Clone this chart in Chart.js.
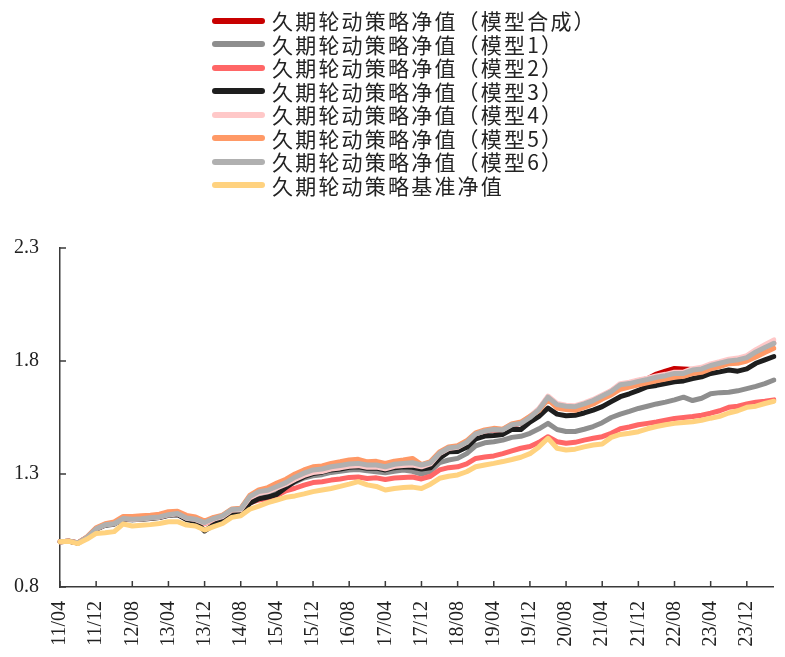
<!DOCTYPE html>
<html>
<head>
<meta charset="utf-8">
<script src="https://cdn.jsdelivr.net/npm/chart.js@4/dist/chart.umd.min.js"></script>
<style>
  body { margin: 0; background: #fff; }
  #wrap { position: relative; width: 785px; height: 657px; }
  #legend { position: absolute; left: 212px; top: 9px; margin: 0; padding: 0; list-style: none;
            font-family: "Noto Sans CJK SC", sans-serif; font-size: 21px; color: #222; }
  #legend li { height: 23.5px; line-height: 23.5px; white-space: nowrap; display: flex; align-items: center; }
  #legend .sw { display: inline-block; width: 53px; height: 6px; border-radius: 3px; margin-right: 7px; }
  #legend .tx { letter-spacing: 2.2px; }
</style>
</head>
<body>
<div id="wrap">
  <canvas id="chart" width="785" height="657"></canvas>
  <ul id="legend"></ul>
</div>
<script>
// 月份（双月）
const months = [
  '11/04','11/06','11/08','11/10','11/12',
  '12/02','12/04','12/06','12/08','12/10','12/12',
  '13/02','13/04','13/06','13/08','13/10','13/12',
  '14/02','14/04','14/06','14/08','14/10','14/12',
  '15/02','15/04','15/06','15/08','15/10','15/12',
  '16/02','16/04','16/06','16/08','16/10','16/12',
  '17/02','17/04','17/06','17/08','17/10','17/12',
  '18/02','18/04','18/06','18/08','18/10','18/12',
  '19/02','19/04','19/06','19/08','19/10','19/12',
  '20/02','20/04','20/06','20/08','20/10','20/12',
  '21/02','21/04','21/06','21/08','21/10','21/12',
  '22/02','22/04','22/06','22/08','22/10','22/12',
  '23/02','23/04','23/06','23/08','23/10','23/12',
  '24/02','24/04','24/06'
];

// x 轴显示的刻度
const tickLabels = ['11/04','11/12','12/08','13/04','13/12','14/08','15/04','15/12','16/08','17/04',
  '17/12','18/08','19/04','19/12','20/08','21/04','21/12','22/08','23/04','23/12'];

const yTicks = [0.8, 1.3, 1.8, 2.3];

const seriesNames = [
  '久期轮动策略净值（模型合成）',
  '久期轮动策略净值（模型1）',
  '久期轮动策略净值（模型2）',
  '久期轮动策略净值（模型3）',
  '久期轮动策略净值（模型4）',
  '久期轮动策略净值（模型5）',
  '久期轮动策略净值（模型6）',
  '久期轮动策略基准净值'
];

const seriesColors = ['#C80000', '#8E8E8E', '#FF6666', '#1E1E1E', '#FFC8C8', '#FF9966', '#B0B0B0', '#FFD27F'];

const navSynth = [1.000,1.003,0.995,1.020,1.058,1.076,1.081,1.104,1.101,1.103,1.107,1.111,1.121,1.126,1.106,1.100,1.086,1.103,1.115,1.142,
  1.145,1.198,1.220,1.226,1.243,1.260,1.284,1.302,1.316,1.320,1.330,1.336,1.342,1.345,1.338,1.338,1.330,1.341,1.345,1.348,
  1.338,1.349,1.391,1.414,1.419,1.440,1.477,1.489,1.496,1.494,1.517,1.524,1.552,1.586,1.641,1.608,1.601,1.598,1.610,1.626,
  1.646,1.667,1.696,1.702,1.713,1.722,1.742,1.755,1.767,1.765,1.762,1.766,1.781,1.791,1.801,1.806,1.816,1.841,1.862,1.880];

const navModel1 = [1.000,1.003,0.995,1.020,1.058,1.075,1.080,1.102,1.099,1.101,1.105,1.109,1.118,1.123,1.103,1.098,1.083,1.100,1.112,1.140,
  1.140,1.185,1.205,1.212,1.225,1.244,1.264,1.282,1.292,1.297,1.307,1.312,1.318,1.320,1.314,1.310,1.305,1.312,1.318,1.312,
  1.300,1.312,1.350,1.362,1.369,1.390,1.425,1.438,1.443,1.450,1.462,1.467,1.480,1.500,1.524,1.497,1.488,1.488,1.498,1.510,
  1.527,1.550,1.565,1.577,1.590,1.600,1.610,1.618,1.628,1.640,1.625,1.635,1.655,1.660,1.662,1.668,1.678,1.688,1.700,1.716];

const navModel2 = [1.000,1.003,0.995,1.020,1.058,1.076,1.082,1.106,1.104,1.106,1.110,1.114,1.124,1.128,1.108,1.100,1.080,1.098,1.108,1.132,
  1.130,1.172,1.185,1.192,1.205,1.226,1.237,1.251,1.262,1.266,1.273,1.278,1.285,1.287,1.280,1.283,1.276,1.282,1.285,1.287,
  1.278,1.290,1.318,1.328,1.332,1.345,1.369,1.375,1.380,1.390,1.402,1.414,1.422,1.440,1.465,1.443,1.436,1.440,1.450,1.458,
  1.465,1.480,1.500,1.508,1.518,1.524,1.530,1.538,1.546,1.550,1.554,1.560,1.569,1.580,1.595,1.600,1.610,1.618,1.622,1.628];

const navModel3 = [1.000,1.002,0.994,1.018,1.056,1.073,1.078,1.100,1.097,1.100,1.103,1.107,1.117,1.120,1.098,1.090,1.048,1.075,1.098,1.128,
  1.124,1.170,1.190,1.198,1.210,1.240,1.268,1.288,1.302,1.308,1.318,1.322,1.330,1.332,1.325,1.326,1.318,1.328,1.332,1.330,
  1.322,1.328,1.370,1.398,1.400,1.418,1.455,1.468,1.470,1.475,1.498,1.497,1.530,1.555,1.592,1.565,1.558,1.560,1.570,1.583,
  1.598,1.620,1.642,1.655,1.670,1.686,1.692,1.700,1.708,1.712,1.722,1.730,1.745,1.752,1.760,1.755,1.765,1.790,1.805,1.820];

const navModel4 = [1.000,1.003,0.995,1.020,1.058,1.075,1.080,1.102,1.099,1.101,1.105,1.109,1.119,1.124,1.104,1.098,1.082,1.100,1.112,1.140,
  1.142,1.195,1.215,1.222,1.238,1.255,1.276,1.294,1.306,1.311,1.322,1.327,1.334,1.337,1.330,1.331,1.323,1.334,1.338,1.340,
  1.332,1.345,1.390,1.413,1.418,1.440,1.478,1.490,1.498,1.497,1.520,1.527,1.555,1.590,1.645,1.612,1.604,1.602,1.615,1.630,
  1.650,1.670,1.700,1.706,1.716,1.724,1.734,1.741,1.750,1.751,1.766,1.772,1.787,1.797,1.808,1.813,1.824,1.850,1.872,1.893];

const navModel5 = [1.000,1.003,0.995,1.022,1.062,1.080,1.088,1.112,1.112,1.115,1.118,1.122,1.133,1.135,1.117,1.110,1.092,1.108,1.118,1.145,
  1.148,1.205,1.230,1.240,1.260,1.277,1.300,1.318,1.332,1.336,1.347,1.354,1.362,1.365,1.354,1.356,1.347,1.357,1.362,1.369,
  1.342,1.355,1.398,1.420,1.425,1.447,1.482,1.495,1.502,1.498,1.522,1.530,1.555,1.580,1.630,1.592,1.585,1.582,1.595,1.610,
  1.632,1.650,1.675,1.685,1.695,1.703,1.712,1.720,1.728,1.732,1.745,1.750,1.765,1.775,1.788,1.790,1.800,1.818,1.838,1.856];

const navModel6 = [1.000,1.003,0.995,1.020,1.058,1.075,1.080,1.103,1.100,1.102,1.106,1.110,1.120,1.125,1.105,1.100,1.085,1.103,1.115,1.143,
  1.145,1.200,1.222,1.228,1.245,1.262,1.286,1.304,1.318,1.322,1.332,1.338,1.344,1.347,1.340,1.340,1.332,1.343,1.347,1.350,
  1.340,1.350,1.392,1.415,1.420,1.440,1.478,1.490,1.497,1.495,1.518,1.524,1.550,1.585,1.640,1.607,1.600,1.598,1.610,1.625,
  1.645,1.665,1.695,1.700,1.710,1.718,1.728,1.735,1.745,1.745,1.760,1.765,1.780,1.790,1.800,1.805,1.815,1.840,1.860,1.878];

const navBench = [1.000,1.002,0.992,1.012,1.037,1.040,1.045,1.079,1.070,1.073,1.076,1.081,1.089,1.089,1.074,1.070,1.052,1.067,1.081,1.108,
  1.115,1.144,1.158,1.173,1.185,1.197,1.203,1.212,1.222,1.229,1.236,1.245,1.255,1.266,1.252,1.245,1.229,1.236,1.240,1.242,
  1.236,1.255,1.281,1.290,1.296,1.310,1.332,1.340,1.347,1.355,1.364,1.374,1.390,1.420,1.458,1.414,1.406,1.410,1.420,1.428,
  1.433,1.462,1.475,1.480,1.487,1.500,1.510,1.518,1.524,1.528,1.531,1.538,1.547,1.555,1.570,1.580,1.595,1.600,1.612,1.622];

const seriesData = [navSynth, navModel1, navModel2, navModel3, navModel4, navModel5, navModel6, navBench];

// 图例
const legendEl = document.getElementById('legend');
seriesNames.forEach(function (name, i) {
  const li = document.createElement('li');
  li.innerHTML = '<span class="sw" style="background:' + seriesColors[i] + '"></span><span class="tx">' + name + '</span>';
  legendEl.appendChild(li);
});

const axisColor = '#3a3a3a';

// 向内的刻度线
const innerTicks = {
  id: 'innerTicks',
  afterDraw(chart) {
    const ctx = chart.ctx;
    const xs = chart.scales.x;
    const ys = chart.scales.y;
    ctx.save();
    ctx.strokeStyle = axisColor;
    ctx.lineWidth = 1.5;
    ctx.beginPath();
    months.forEach(function (m, i) {
      if (tickLabels.includes(m)) {
        const x = xs.getPixelForValue(i);
        ctx.moveTo(x, ys.bottom);
        ctx.lineTo(x, ys.bottom - 6);
      }
    });
    yTicks.forEach(function (v) {
      const y = ys.getPixelForValue(v);
      ctx.moveTo(xs.left, y);
      ctx.lineTo(xs.left + 6, y);
    });
    ctx.stroke();
    ctx.restore();
  }
};

const datasets = seriesNames.map(function (name, i) {
  return {
    label: name,
    data: seriesData[i],
    borderColor: seriesColors[i],
    backgroundColor: seriesColors[i],
    borderWidth: 5,
    pointRadius: 0,
    tension: 0,
    borderJoinStyle: 'round',
    borderCapStyle: 'round',
    order: seriesNames.length - 1 - i
  };
});

new Chart(document.getElementById('chart'), {
  type: 'line',
  data: { labels: months, datasets: datasets },
  options: {
    responsive: false,
    animation: false,
    layout: { padding: { top: 248, right: 5, left: 0, bottom: 0 } },
    plugins: {
      legend: { display: false },
      tooltip: { enabled: false }
    },
    scales: {
      x: {
        grid: { display: false, drawTicks: false },
        border: { display: true, color: axisColor, width: 1.5 },
        afterFit: function (s) { s.height = 70; },
        ticks: {
          autoSkip: false,
          maxRotation: 90,
          minRotation: 90,
          padding: 14,
          color: '#222',
          font: { family: 'Liberation Serif', size: 20 },
          callback: function (v, i) {
            const m = months[i];
            return tickLabels.includes(m) ? m : null;
          }
        }
      },
      y: {
        min: 0.8,
        max: 2.3,
        grid: { display: false, drawTicks: false },
        border: { display: true, color: axisColor, width: 1.5 },
        afterFit: function (s) { s.width = 60; },
        afterBuildTicks: function (s) { s.ticks = yTicks.map(function (v) { return { value: v }; }); },
        ticks: {
          padding: 21,
          color: '#222',
          font: { family: 'Liberation Serif', size: 20 },
          callback: function (v) { return Number(v).toFixed(1); }
        }
      }
    }
  },
  plugins: [innerTicks]
});
</script>
</body>
</html>
